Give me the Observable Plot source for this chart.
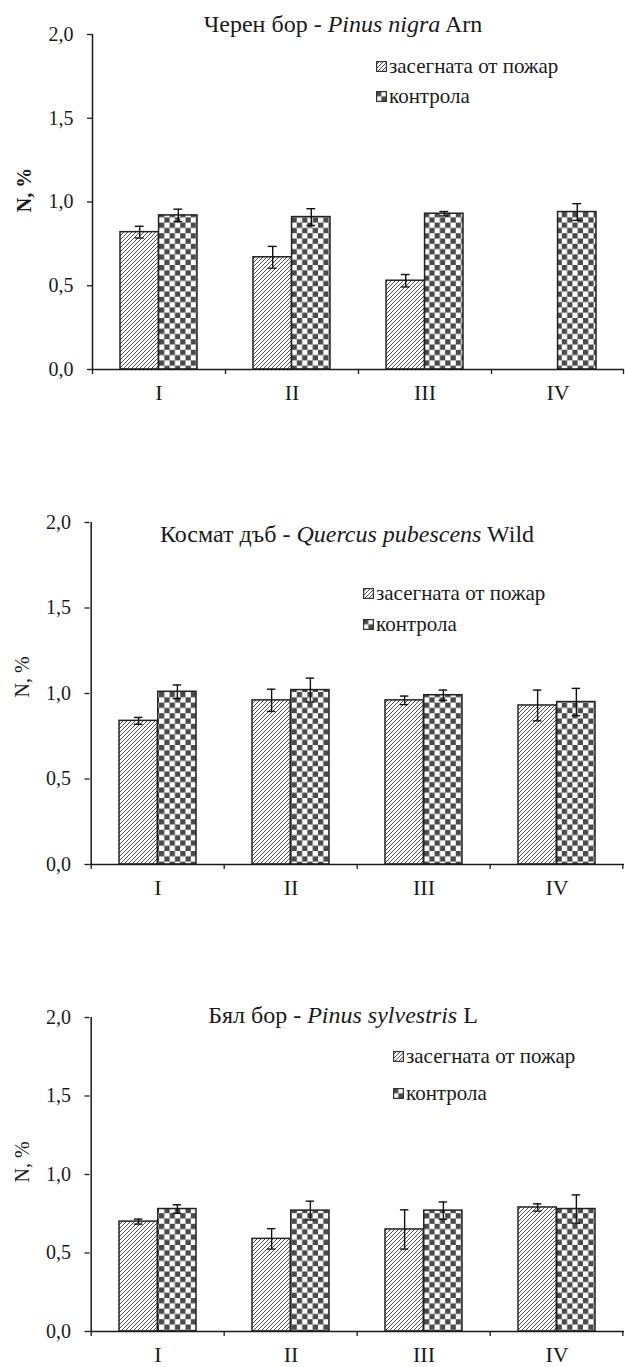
<!DOCTYPE html>
<html>
<head>
<meta charset="utf-8">
<script src="https://cdn.jsdelivr.net/npm/d3@7"></script>
<script src="https://cdn.jsdelivr.net/npm/@observablehq/plot@0.6"></script>
<style>
  html, body { margin: 0; padding: 0; background: #fff; }
  #root { position: relative; width: 625px; height: 1367px; overflow: hidden; font-family: "Liberation Serif", "Times New Roman", serif; color: #1a1a1a; }
  .panel { position: absolute; left: 0; }
  .title { position: absolute; font-size: 24px; white-space: nowrap; transform: translateX(-50%); line-height: 1; }
  .ylab { position: absolute; font-size: 20px; white-space: nowrap; transform: translate(-50%, -50%) rotate(-90deg); line-height: 1; }
  .leg { position: absolute; font-size: 21px; white-space: nowrap; line-height: 1; display: flex; align-items: center; }
  .leg svg { margin-right: 2px; }
</style>
</head>
<body>
<svg width="0" height="0" style="position:absolute">
  <defs>
    <pattern id="hatch" patternUnits="userSpaceOnUse" width="4" height="4">
      <rect width="4" height="4" fill="#fff"/>
      <path d="M-1,1 L1,-1 M0,4 L4,0 M3,5 L5,3" stroke="#3a3a3a" stroke-width="0.9"/>
    </pattern>
    <pattern id="checker" patternUnits="userSpaceOnUse" width="10.6" height="10.6">
      <rect width="10.6" height="10.6" fill="#fff"/>
      <rect x="0" y="0" width="5.3" height="5.3" fill="#4a4a4a"/>
      <rect x="5.3" y="5.3" width="5.3" height="5.3" fill="#4a4a4a"/>
    </pattern>
  </defs>
</svg>
<div id="root"></div>
<script>
// ---- data ----
const categories = ["I", "II", "III", "IV"];
const seriesNames = ["засегната от пожар", "контрола"];
const yTicks = [0, 0.5, 1.0, 1.5, 2.0];

// Panel 1: Черен бор - Pinus nigra Arn
const p1Burned     = [0.82, 0.67, 0.53, null];
const p1BurnedErr  = [0.035, 0.065, 0.037, null];
const p1Control    = [0.92, 0.91, 0.93, 0.94];
const p1ControlErr = [0.037, 0.05, 0.013, 0.05];

// Panel 2: Космат дъб - Quercus pubescens Wild
const p2Burned     = [0.84, 0.96, 0.96, 0.93];
const p2BurnedErr  = [0.02, 0.065, 0.025, 0.09];
const p2Control    = [1.01, 1.02, 0.99, 0.95];
const p2ControlErr = [0.04, 0.07, 0.03, 0.08];

// Panel 3: Бял бор - Pinus sylvestris L
const p3Burned     = [0.70, 0.59, 0.65, 0.79];
const p3BurnedErr  = [0.016, 0.065, 0.125, 0.023];
const p3Control    = [0.78, 0.77, 0.77, 0.78];
const p3ControlErr = [0.027, 0.06, 0.055, 0.09];

const titles = [
  ["Черен бор - ", "Pinus nigra", " Arn"],
  ["Космат дъб - ", "Quercus pubescens", " Wild"],
  ["Бял бор - ", "Pinus sylvestris", " L"]
];
const yLabel = "N, %";

// ---- layout ----
const W = 625;
const panels = [
  {burned: p1Burned, bErr: p1BurnedErr, control: p1Control, cErr: p1ControlErr,
   top: 0, ml: 92, mt: 34, h: 409, mb: 40, bold: true,
   titleX: 343, titleY: 12, legX: 376, legY: [66, 96], ylabX: 24, ylabY: 190},
  {burned: p2Burned, bErr: p2BurnedErr, control: p2Control, cErr: p2ControlErr,
   top: 480, ml: 89.5, mt: 42, h: 424, mb: 40, bold: false,
   titleX: 347, titleY: 522, legX: 363, legY: [593, 624], ylabX: 22, ylabY: 677},
  {burned: p3Burned, bErr: p3BurnedErr, control: p3Control, cErr: p3ControlErr,
   top: 980, ml: 89.5, mt: 37, h: 387, mb: 36, bold: false,
   titleX: 343, titleY: 1003, legX: 393, legY: [1056, 1093], ylabX: 22, ylabY: 1162}
];

const root = document.getElementById("root");
const pIn = 0.42, pOut = 0.21;
const fmt = d => d.toFixed(1).replace(".", ",");

panels.forEach((p, k) => {
  const mr = 1;
  const band = d3.scaleBand().domain(categories).range([p.ml, W - mr]).paddingInner(pIn).paddingOuter(pOut);
  const bw = band.bandwidth(), step = band.step();
  const rows = categories.map((c, i) => ({cat: c, b: p.burned[i], be: p.bErr[i], c: p.control[i], ce: p.cErr[i]}));
  const rowsB = rows.filter(d => d.b != null);
  const cap = 4.5;
  const chart = Plot.plot({
    width: W, height: p.h,
    marginLeft: p.ml, marginRight: mr, marginTop: p.mt, marginBottom: p.mb,
    style: {fontFamily: "Liberation Serif, serif", color: "#1a1a1a", background: "#fff"},
    x: {type: "band", domain: categories, paddingInner: pIn, paddingOuter: pOut},
    y: {domain: [0, 2]},
    marks: [
      Plot.barY(rowsB, {x: "cat", y: "b", insetRight: bw / 2, fill: "url(#hatch)", stroke: "#222", strokeWidth: 1.5}),
      Plot.barY(rows, {x: "cat", y: "c", insetLeft: bw / 2, fill: "url(#checker)", stroke: "#222", strokeWidth: 1.5}),
      // error bars
      Plot.ruleX(rowsB, {x: "cat", y1: d => d.b - d.be, y2: d => d.b + d.be, dx: -bw / 4, stroke: "#111", strokeWidth: 1.4}),
      Plot.tickY(rowsB, {x: "cat", y: d => d.b - d.be, insetLeft: bw / 4 - cap, insetRight: 3 * bw / 4 - cap, stroke: "#111", strokeWidth: 1.4}),
      Plot.tickY(rowsB, {x: "cat", y: d => d.b + d.be, insetLeft: bw / 4 - cap, insetRight: 3 * bw / 4 - cap, stroke: "#111", strokeWidth: 1.4}),
      Plot.ruleX(rows, {x: "cat", y1: d => d.c - d.ce, y2: d => d.c + d.ce, dx: bw / 4, stroke: "#111", strokeWidth: 1.4}),
      Plot.tickY(rows, {x: "cat", y: d => d.c - d.ce, insetLeft: 3 * bw / 4 - cap, insetRight: bw / 4 - cap, stroke: "#111", strokeWidth: 1.4}),
      Plot.tickY(rows, {x: "cat", y: d => d.c + d.ce, insetLeft: 3 * bw / 4 - cap, insetRight: bw / 4 - cap, stroke: "#111", strokeWidth: 1.4}),
      // axes
      Plot.ruleY([0], {stroke: "#1a1a1a", strokeWidth: 1.5}),
      Plot.ruleX([categories[0]], {x: d => d, y1: 0, y2: 2, dx: -step / 2, stroke: "#1a1a1a", strokeWidth: 1.5}),
      Plot.ruleX(categories, {x: d => d, y1: 0, y2: 0, dx: -step / 2, insetBottom: -5, stroke: "#1a1a1a", strokeWidth: 1.3}),
      Plot.ruleX([categories[categories.length - 1]], {x: d => d, y1: 0, y2: 0, dx: step / 2 - 1, insetBottom: -5, stroke: "#1a1a1a", strokeWidth: 1.3}),
      Plot.axisY({ticks: yTicks, tickFormat: fmt, tickSize: 5, tickPadding: 14, fontSize: 20, label: null, strokeWidth: 1.3}),
      Plot.axisX({tickSize: 0, tickPadding: 15, fontSize: 22, label: null})
    ]
  });
  chart.classList.add("panel");
  chart.style.top = p.top + "px";
  root.appendChild(chart);

  // title
  const t = document.createElement("div");
  t.className = "title";
  t.style.left = p.titleX + "px";
  t.style.top = p.titleY + "px";
  const [a, it, b] = titles[k];
  t.append(document.createTextNode(a));
  const em = document.createElement("i"); em.textContent = it; t.append(em);
  t.append(document.createTextNode(b));
  root.appendChild(t);

  // y label
  const yl = document.createElement("div");
  yl.className = "ylab";
  yl.style.left = p.ylabX + "px";
  yl.style.top = p.ylabY + "px";
  if (p.bold) yl.style.fontWeight = "bold";
  yl.textContent = yLabel;
  root.appendChild(yl);

  // legend
  const fills = ["url(#hatch)", "url(#checker)"];
  seriesNames.forEach((name, j) => {
    const row = document.createElement("div");
    row.className = "leg";
    row.style.left = p.legX + "px";
    row.style.top = (p.legY[j] - 11) + "px";
    row.style.height = "22px";
    row.innerHTML = `<svg width="11" height="11"><rect x="0.6" y="0.6" width="9.8" height="9.8" fill="${fills[j]}" stroke="#333" stroke-width="1.2"/></svg>`;
    const span = document.createElement("span");
    span.textContent = name;
    row.appendChild(span);
    root.appendChild(row);
  });
});
</script>
</body>
</html>
